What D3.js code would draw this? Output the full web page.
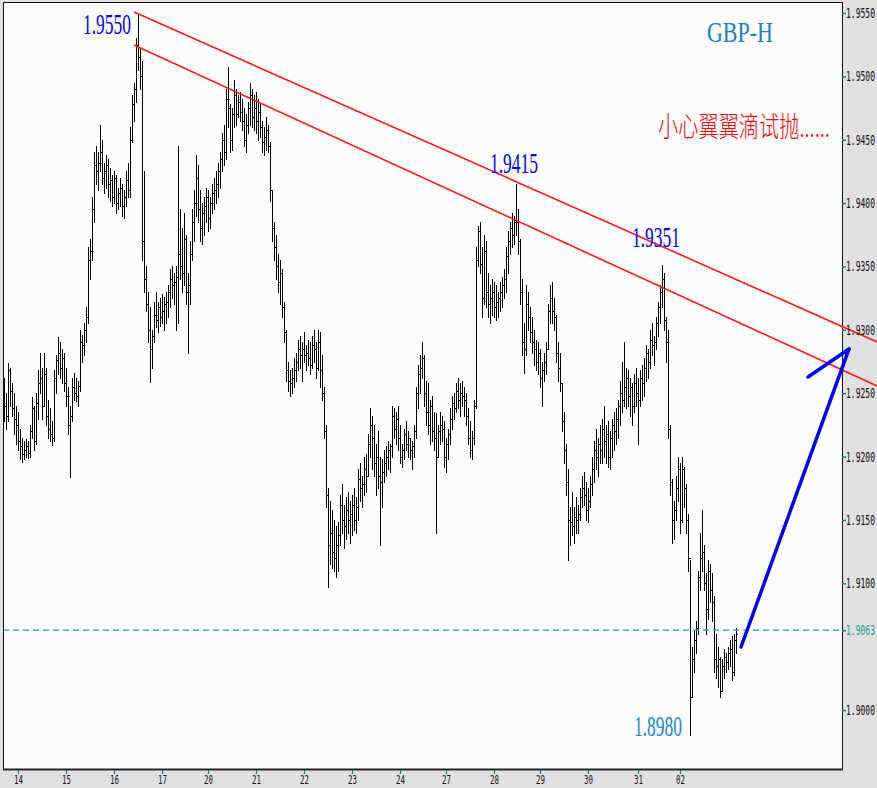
<!DOCTYPE html>
<html><head><meta charset="utf-8">
<script src="https://cdn.jsdelivr.net/npm/d3@7"></script>
<style>html,body{margin:0;padding:0;background:#e1e1e1;} svg{display:block}</style>
</head><body>
<svg id="chart" width="877" height="788"></svg>
<script>
// Hourly GBP bars, prices in pips (1.9265 -> 19265)
const highs = [
9262,9250,9274,9270,9258,9250,9240,9235,9222,9215,
9212,9214,9212,9225,9247,9240,9250,9268,9282,9270,
9282,9270,9245,9238,9228,9268,9280,9294,9290,9285,
9282,9270,9255,9240,9262,9266,9262,9260,9300,9296,
9305,9318,9365,9372,9405,9440,9445,9440,9462,9450,
9432,9438,9435,9428,9422,9425,9422,9412,9420,9415,
9410,9425,9432,9460,9485,9495,9530,9550,9522,9512,
9425,9350,9330,9318,9300,9322,9330,9322,9325,9328,
9326,9330,9335,9348,9350,9345,9350,9445,9395,9380,
9392,9375,9345,9370,9395,9410,9438,9430,9410,9400,
9405,9412,9410,9405,9415,9420,9425,9432,9440,9455,
9462,9490,9507,9478,9475,9497,9490,9485,9488,9482,
9475,9470,9480,9495,9490,9485,9488,9482,9478,9465,
9460,9468,9462,9448,9410,9385,9375,9360,9355,9348,
9322,9300,9275,9268,9270,9278,9282,9292,9295,9290,
9298,9288,9292,9290,9295,9300,9290,9300,9298,9280,
9255,9225,9175,9165,9158,9150,9145,9148,9170,9178,
9162,9168,9172,9165,9170,9175,9168,9190,9195,9185,
9200,9202,9218,9238,9232,9225,9210,9220,9200,9198,
9205,9208,9212,9210,9240,9238,9235,9240,9225,9210,
9222,9228,9220,9215,9212,9225,9255,9272,9280,9290,
9280,9260,9258,9245,9248,9235,9234,9225,9235,9232,
9228,9215,9222,9238,9248,9250,9258,9262,9258,9260,
9255,9250,9238,9228,9220,9245,9365,9382,9385,9365,
9375,9370,9345,9335,9340,9338,9335,9330,9338,9342,
9348,9365,9378,9385,9392,9390,9415,9395,9372,9340,
9305,9335,9330,9318,9310,9300,9292,9290,9285,9275,
9282,9290,9320,9335,9338,9325,9312,9290,9282,9258,
9235,9210,9190,9160,9172,9160,9168,9162,9175,9185,
9188,9180,9175,9185,9200,9212,9222,9215,9225,9230,
9240,9225,9228,9220,9230,9235,9238,9245,9260,9275,
9290,9270,9268,9262,9258,9265,9270,9262,9268,9272,
9278,9288,9285,9300,9305,9295,9310,9322,9335,9351,
9345,9310,9300,9225,9182,9165,9185,9200,9195,9200,
9192,9178,9155,9118,9050,9062,9070,9110,9140,9158,
9130,9108,9118,9115,9108,9090,9060,9050,9042,9040,
9048,9045,9050,9055,9058,9060,9065
].map(v => 10000 + v);
const lows = [
9228,9222,9228,9240,9232,9218,9210,9205,9198,9196,
9198,9200,9199,9200,9215,9205,9210,9230,9250,9230,
9240,9225,9215,9212,9209,9212,9250,9265,9262,9258,
9252,9240,9218,9184,9228,9245,9244,9240,9252,9275,
9280,9290,9305,9340,9355,9385,9415,9410,9425,9415,
9408,9412,9405,9402,9398,9400,9392,9395,9398,9390,
9388,9398,9405,9405,9448,9465,9480,9505,9490,9355,
9330,9315,9290,9259,9270,9290,9302,9298,9303,9305,
9300,9305,9310,9318,9325,9320,9300,9305,9340,9330,
9335,9320,9282,9320,9355,9370,9390,9385,9370,9368,
9375,9385,9378,9380,9392,9395,9400,9405,9412,9425,
9430,9435,9460,9440,9442,9460,9462,9468,9465,9458,
9445,9440,9455,9462,9460,9458,9455,9450,9452,9440,
9438,9442,9440,9402,9370,9355,9340,9330,9320,9310,
9290,9260,9252,9248,9250,9255,9260,9268,9270,9260,
9275,9268,9272,9265,9270,9275,9262,9268,9255,9245,
9215,9160,9097,9115,9112,9110,9105,9110,9130,9140,
9128,9135,9140,9132,9138,9142,9140,9150,9165,9160,
9170,9172,9185,9200,9190,9185,9170,9175,9130,9160,
9180,9185,9190,9188,9200,9215,9210,9205,9195,9192,
9198,9205,9200,9198,9190,9200,9215,9238,9250,9262,
9240,9225,9218,9210,9212,9205,9140,9200,9210,9212,
9192,9188,9198,9210,9222,9230,9235,9238,9232,9240,
9232,9225,9210,9200,9198,9210,9238,9350,9345,9310,
9320,9318,9310,9305,9312,9310,9308,9310,9315,9318,
9325,9330,9345,9360,9365,9368,9375,9360,9320,9280,
9266,9280,9300,9290,9282,9272,9268,9265,9255,9240,
9260,9265,9285,9305,9305,9300,9275,9260,9252,9220,
9195,9170,9118,9130,9138,9132,9140,9140,9150,9160,
9162,9150,9148,9160,9170,9180,9190,9185,9195,9195,
9200,9195,9192,9190,9200,9205,9210,9215,9225,9235,
9240,9238,9240,9232,9225,9235,9240,9210,9240,9245,
9248,9260,9262,9270,9280,9272,9285,9295,9305,9318,
9300,9275,9215,9170,9132,9135,9150,9165,9140,9148,
9160,9140,9110,8980,9010,9030,9045,9060,9095,9110,
9095,9060,9072,9085,9070,9030,9025,9018,9010,9015,
9025,9030,9032,9035,9024,9028,9045
].map(v => 10000 + v);
const closes = [
9240,9232,9268,9252,9238,9230,9225,9212,9208,9202,
9205,9208,9203,9220,9238,9212,9242,9258,9262,9240,
9265,9232,9222,9218,9215,9262,9276,9282,9270,9278,
9258,9248,9225,9232,9255,9250,9248,9256,9290,9288,
9300,9310,9355,9362,9395,9430,9425,9432,9440,9420,
9425,9430,9415,9418,9405,9420,9400,9408,9412,9398,
9405,9418,9410,9450,9478,9490,9525,9515,9500,9370,
9340,9320,9300,9285,9295,9312,9308,9318,9310,9315,
9320,9322,9330,9340,9335,9338,9342,9360,9350,9345,
9372,9330,9335,9360,9385,9400,9420,9395,9380,9392,
9398,9405,9388,9400,9408,9410,9415,9425,9435,9450,
9440,9482,9475,9450,9470,9485,9470,9480,9472,9465,
9450,9462,9475,9485,9468,9475,9465,9472,9460,9448,
9452,9458,9445,9410,9380,9365,9350,9338,9345,9318,
9298,9268,9260,9258,9262,9268,9275,9285,9280,9285,
9280,9282,9278,9272,9288,9285,9270,9290,9268,9250,
9220,9170,9130,9140,9125,9120,9130,9138,9162,9150,
9145,9158,9150,9155,9162,9150,9160,9182,9175,9178,
9190,9185,9210,9225,9215,9195,9200,9185,9180,9188,
9195,9200,9205,9208,9232,9222,9230,9215,9200,9205,
9218,9210,9215,9205,9208,9220,9250,9265,9270,9278,
9250,9235,9225,9240,9220,9215,9200,9220,9225,9222,
9200,9210,9218,9230,9242,9238,9252,9245,9250,9248,
9245,9232,9215,9205,9215,9240,9355,9378,9352,9325,
9362,9330,9320,9325,9330,9318,9322,9325,9330,9335,
9340,9358,9370,9380,9375,9385,9385,9370,9330,9290,
9285,9320,9310,9298,9290,9285,9275,9282,9262,9268,
9275,9285,9315,9325,9315,9310,9282,9270,9258,9228,
9205,9180,9150,9148,9145,9152,9150,9155,9168,9175,
9170,9158,9165,9178,9190,9205,9200,9210,9205,9222,
9212,9218,9200,9215,9225,9220,9230,9240,9250,9245,
9255,9262,9248,9255,9240,9258,9250,9245,9262,9258,
9270,9282,9275,9292,9288,9290,9305,9318,9330,9340,
9308,9290,9222,9180,9150,9158,9175,9190,9150,9190,
9175,9150,9120,9010,9040,9055,9065,9105,9120,9125,
9100,9080,9110,9095,9085,9040,9035,9040,9015,9035,
9042,9038,9045,9048,9030,9055,9060
].map(v => 10000 + v);
const firstOpen = 19245;

const dayLabels = ["14","15","16","17","20","21","22","23","24","27","28","29","30","31","02"];
const dayStarts = [7,31,55,79,102,126,150,174,198,221,245,268,292,317,338];
const priceTicks = [1.9000,1.9100,1.9150,1.9200,1.9250,1.9300,1.9350,1.9400,1.9450,1.9500,1.9550];
const markLevel = 1.9063;
const peakNotes = [
  {idx:67,  price:1.9550, text:"1.9550", color:"#0000ff"},
  {idx:256, price:1.9415, text:"1.9415", color:"#0000ff"},
  {idx:329, price:1.9351, text:"1.9351", color:"#0000ff"},
  {idx:343, price:1.8980, text:"1.8980", color:"#1a86c6"}
];
const channelUpper = [[65, 1.95508], [436.5, 1.92904]];
const channelLower = [[65, 1.95247], [436.5, 1.92557]];
const arrowShaft = [[368.5, 1.90497], [422.5, 1.92849]];
const arrowHead = [[402, 1.92628], [422.5, 1.92849]];
const titleText = "GBP-H";
const noteText = "小心翼翼滴试抛......";

const bars = highs.map((h, i) => ({
  i, h: h / 10000, l: lows[i] / 10000, c: closes[i] / 10000,
  o: (i === 0 ? firstOpen : closes[i - 1]) / 10000
}));

const svg = d3.select("#chart");
const W = 877, H = 788;
const plot = {left: 3, top: 2, right: 842, bottom: 770};

const x = d3.scaleLinear().domain([0, 366]).range([4, 736]);
const y = d3.scaleLinear().domain([1.9, 1.955]).range([710, 13]);

// place a text at (tx, ty), squeezed horizontally to a target width
function fitText(g, str, tx, ty, width, anchor, attrs) {
  const t = g.append("text").attr("x", 0).attr("y", 0).text(str);
  Object.entries(attrs).forEach(([k, v]) => t.attr(k, v));
  const natural = t.node().getComputedTextLength() || width;
  const s = Math.min(1, width / natural);
  const left = anchor === "end" ? tx - width : anchor === "middle" ? tx - width / 2 : tx;
  t.attr("transform", `translate(${left},${ty}) scale(${s},1)`);
  return t;
}

svg.append("rect").attr("width", W).attr("height", H).attr("fill", "#e1e1e1");
svg.append("rect")
  .attr("x", plot.left + 0.5).attr("y", plot.top + 0.5)
  .attr("width", plot.right - plot.left).attr("height", plot.bottom - plot.top)
  .attr("fill", "#fcfcfc");

// OHLC bars
const px = v => Math.round(v) + 0.5;
svg.append("g").selectAll("path").data(bars).join("path")
  .attr("d", d => {
    const cx = px(x(d.i));
    const yh = Math.round(y(d.h)), yl = Math.round(y(d.l));
    const yo = px(y(d.o)), yc = px(y(d.c));
    return `M${cx},${yh}V${yl + 1}M${cx - 1.5},${yo}H${cx}M${cx},${yc}H${cx + 1.5}`;
  })
  .attr("stroke", "#000").attr("stroke-width", 1.2).attr("fill", "none")
  .attr("shape-rendering", "crispEdges");

// dashed level
svg.append("line")
  .attr("x1", plot.left).attr("x2", plot.right)
  .attr("y1", y(markLevel)).attr("y2", y(markLevel))
  .attr("stroke", "#2a9a9a").attr("stroke-width", 1.4)
  .attr("stroke-dasharray", "6,4");

// frame
svg.append("rect")
  .attr("x", plot.left + 0.5).attr("y", plot.top + 0.5)
  .attr("width", plot.right - plot.left).attr("height", plot.bottom - plot.top - 1)
  .attr("fill", "none").attr("stroke", "#111").attr("stroke-width", 1);
svg.append("line").attr("x1", plot.left).attr("x2", plot.right + 1)
  .attr("y1", plot.bottom - 0.5).attr("y2", plot.bottom - 0.5)
  .attr("stroke", "#222").attr("stroke-width", 2);

// channel lines (extend over the axis area like the reference)
const line = d3.line().x(d => x(d[0])).y(d => y(d[1]));
[channelUpper, channelLower].forEach(c => {
  svg.append("path").attr("d", line(c)).attr("stroke", "#ff1a1a")
    .attr("stroke-width", 1.6).attr("fill", "none");
});

// blue arrow
[arrowShaft, arrowHead].forEach(a => {
  svg.append("path").attr("d", line(a)).attr("stroke", "#0000ff")
    .attr("stroke-width", 3.5).attr("stroke-linecap", "round").attr("fill", "none");
});

// right axis (ticks via d3 axis, labels squeezed to fit)
const yVals = priceTicks.concat([markLevel]);
const yAxis = d3.axisRight(y).tickValues(yVals).tickFormat("").tickSize(4);
const ya = svg.append("g").attr("transform", `translate(${plot.right},0)`).call(yAxis);
ya.select(".domain").remove();
ya.selectAll(".tick line").attr("stroke", "#108080").attr("stroke-width", 1.5);
const fmt = d3.format(".4f");
const yLab = svg.append("g");
yVals.forEach(v => {
  fitText(yLab, fmt(v), 846, y(v) + 5, 29, "start", {
    "font-family": "'DejaVu Sans Mono', monospace", "font-size": 14,
    "fill": v === markLevel ? "#2a9a9a" : "#111"
  });
});

// bottom axis
const xAxis = d3.axisBottom(x).tickValues(dayStarts).tickFormat("").tickSize(4);
const xa = svg.append("g").attr("transform", `translate(0,${plot.bottom})`).call(xAxis);
xa.select(".domain").remove();
xa.selectAll(".tick line").attr("stroke", "#108080").attr("stroke-width", 1.2);
const xLab = svg.append("g");
dayStarts.forEach((d, i) => {
  fitText(xLab, dayLabels[i], x(d) + 0.5, 784, 9, "middle", {
    "font-family": "'DejaVu Sans Mono', monospace", "font-size": 12, "fill": "#111"
  });
});

// peak annotations
const noteFont = "'Liberation Serif', 'Times New Roman', serif";
const notePos = {
  "1.9550": d => ({x: x(d.idx) - 7, y: y(d.price) + 21, anchor: "end"}),
  "1.9415": d => ({x: x(d.idx) - 2, y: y(d.price) - 11, anchor: "middle"}),
  "1.9351": d => ({x: x(d.idx) - 6, y: y(d.price) - 18, anchor: "middle"}),
  "1.8980": d => ({x: x(d.idx) - 8, y: y(d.price) + 1, anchor: "end"})
};
const notes = svg.append("g");
peakNotes.forEach(d => {
  const p = notePos[d.text](d);
  fitText(notes, d.text, p.x, p.y, 48, p.anchor,
    {"font-family": noteFont, "font-size": 29, "fill": d.color});
});

fitText(notes, titleText, 707, 42, 66, "start",
  {"font-family": noteFont, "font-size": 29, "fill": "#1580c4"});

fitText(notes, noteText, 658, 137, 172, "start",
  {"font-family": "'Noto Sans CJK SC', sans-serif", "font-size": 28,
   "font-weight": 300, "fill": "#ff0000"});
</script>
</body></html>
